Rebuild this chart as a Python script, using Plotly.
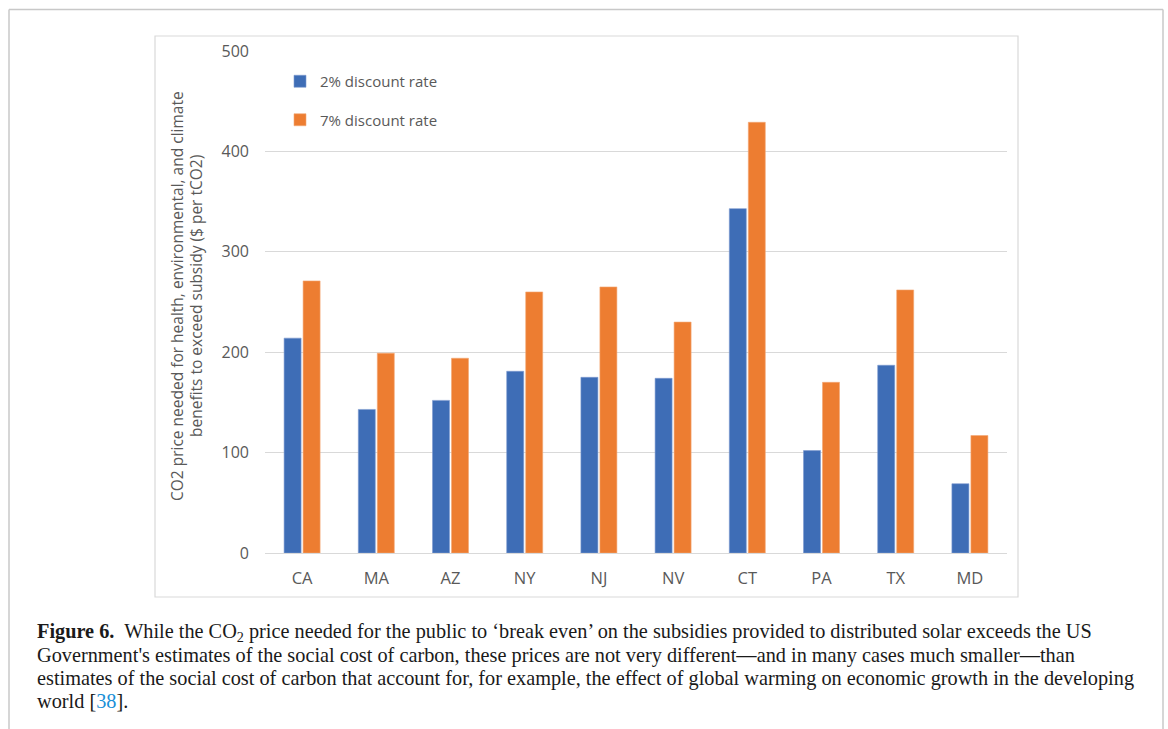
import plotly.graph_objects as go

# State-level break-even CO2 prices ($ per tCO2)
states = ["CA", "MA", "AZ", "NY", "NJ", "NV", "CT", "PA", "TX", "MD"]
rate_2pct = [214, 143, 152, 181, 175, 174, 343, 102, 187, 69]
rate_7pct = [271, 199, 194, 260, 265, 230, 429, 170, 262, 117]
series_names = ["2% discount rate", "7% discount rate"]
y_ticks = [0, 100, 200, 300, 400, 500]

W, H = 1168, 729
PL, PR, PT, PB = 265, 1007, 51, 553  # plot area in pixels


def px_x(x):
    return (x - PL) / (PR - PL)


def px_y(y):
    return (PB - y) / (PB - PT)


chart_font = "Open Sans"
tick_color = "#595959"

fig = go.Figure()
fig.add_trace(go.Bar(x=states, y=rate_2pct, name=series_names[0],
                     marker=dict(color="#3E6DB6", line=dict(color="#7D9BD0", width=0.6)),
                     legendgroup="a"))
fig.add_trace(go.Bar(x=states, y=rate_7pct, name=series_names[1],
                     marker=dict(color="#ED7D31", line=dict(color="#F4A876", width=0.6)),
                     legendgroup="b"))

fig.update_layout(
    width=W, height=H,
    margin=dict(l=PL, r=W - PR, t=PT, b=H - PB),
    paper_bgcolor="white", plot_bgcolor="white",
    barmode="group", bargap=0.488, bargroupgap=0.105,
    font=dict(family=chart_font, color=tick_color),
    showlegend=True,
    legend=dict(x=px_x(280), y=px_y(65), xanchor="left", yanchor="top",
                bgcolor="rgba(0,0,0,0)", tracegroupgap=16,
                font=dict(family=chart_font, size=15, color=tick_color),
                itemwidth=30),
)
fig.update_yaxes(range=[0, 500], tickvals=y_ticks, showgrid=True,
                 gridcolor="#D9D9D9", gridwidth=1.3, zeroline=True,
                 zerolinecolor="#D9D9D9", zerolinewidth=1.3, showline=False,
                 tickfont=dict(family=chart_font, size=16, color=tick_color),
                 ticks="", ticklabelstandoff=15)
fig.update_xaxes(showgrid=False, showline=False, ticks="",
                 tickfont=dict(family=chart_font, size=16.5, color=tick_color),
                 ticklabelstandoff=13)

# Y-axis title, two centred lines
title_lines = ["CO2 price needed for health, environmental, and climate",
               "benefits to exceed subsidy ($ per tCO2)"]
for i, line in enumerate(title_lines):
    fig.add_annotation(text=line, x=px_x(177 + 19 * i), y=px_y(296),
                       xref="paper", yref="paper", textangle=-90,
                       showarrow=False, xanchor="center", yanchor="middle",
                       font=dict(family=chart_font, size=15.5, color=tick_color))

# Frame of the chart object
fig.add_shape(type="rect", xref="paper", yref="paper",
              x0=px_x(155), x1=px_x(1018), y0=px_y(597), y1=px_y(36),
              line=dict(color="#D9D9D9", width=1.2), layer="below")

# Outer page frame
frame = dict(color="#C8C8C8", width=1.5)
fig.add_shape(type="line", xref="paper", yref="paper",
              x0=px_x(9), x1=px_x(1163), y0=px_y(9.5), y1=px_y(9.5), line=frame)
fig.add_shape(type="line", xref="paper", yref="paper",
              x0=px_x(9), x1=px_x(9), y0=px_y(9.5), y1=px_y(735), line=frame)
fig.add_shape(type="line", xref="paper", yref="paper",
              x0=px_x(1163), x1=px_x(1163), y0=px_y(9.5), y1=px_y(735), line=frame)

# Caption
caption_lines = [
    "<b>Figure 6.</b>  While the CO<sub>2</sub> price needed for the public to ‘break even’ on the subsidies provided to distributed solar exceeds the US",
    "Government's estimates of the social cost of carbon, these prices are not very different—and in many cases much smaller—than",
    "estimates of the social cost of carbon that account for, for example, the effect of global warming on economic growth in the developing",
    "world [<span style='color:#1A8FD6'>38</span>].",
]
for i, line in enumerate(caption_lines):
    fig.add_annotation(text=line, x=px_x(35), y=px_y(632 + 23 * i),
                       xref="paper", yref="paper", showarrow=False,
                       xanchor="left", yanchor="middle", align="left",
                       font=dict(family="Liberation Serif", size=20.3, color="#1A1A1A"))

fig.write_html("out.html")
